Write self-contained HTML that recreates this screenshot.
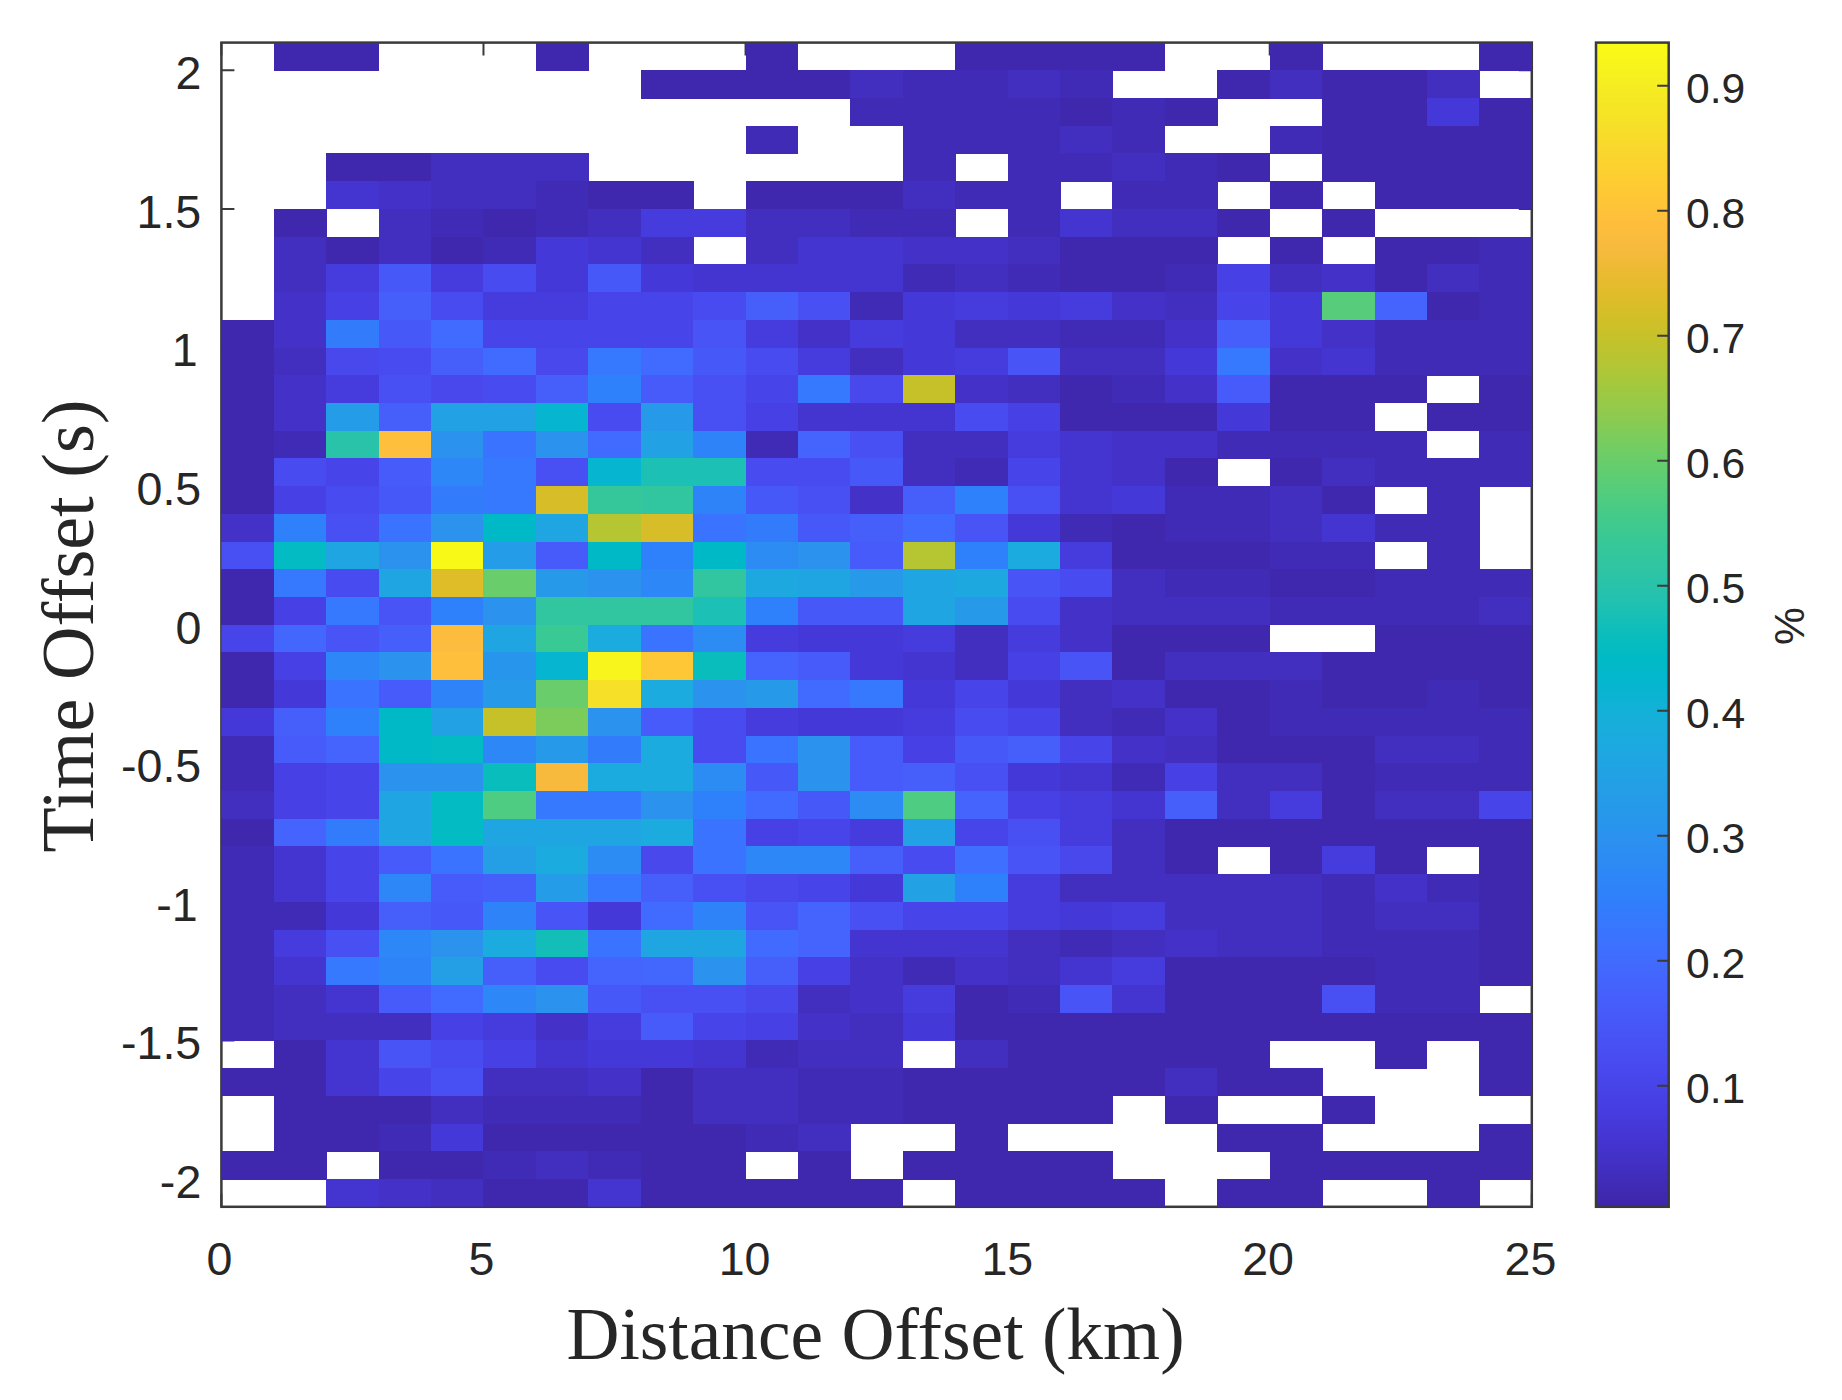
<!DOCTYPE html>
<html lang="en"><head><meta charset="utf-8"><title>Time Offset vs Distance Offset</title>
<style>html,body{margin:0;padding:0;background:#fff}svg{display:block}</style></head>
<body>
<svg width="1842" height="1400" viewBox="0 0 1842 1400">
<rect width="1842" height="1400" fill="#fff"/>
<defs><linearGradient id="pg" x1="0" y1="1" x2="0" y2="0"><stop offset="0.0000" stop-color="#3e26a8"/><stop offset="0.0196" stop-color="#402bb7"/><stop offset="0.0392" stop-color="#4330c5"/><stop offset="0.0588" stop-color="#4535d2"/><stop offset="0.0784" stop-color="#463bde"/><stop offset="0.0980" stop-color="#4742e6"/><stop offset="0.1176" stop-color="#4849ed"/><stop offset="0.1373" stop-color="#4850f3"/><stop offset="0.1569" stop-color="#4757f7"/><stop offset="0.1765" stop-color="#465efb"/><stop offset="0.1961" stop-color="#4465fd"/><stop offset="0.2157" stop-color="#406dfe"/><stop offset="0.2353" stop-color="#3974ff"/><stop offset="0.2549" stop-color="#327cfc"/><stop offset="0.2745" stop-color="#2e83f9"/><stop offset="0.2941" stop-color="#2d8af5"/><stop offset="0.3137" stop-color="#2c90f0"/><stop offset="0.3333" stop-color="#2797eb"/><stop offset="0.3529" stop-color="#259ce7"/><stop offset="0.3725" stop-color="#22a2e4"/><stop offset="0.3922" stop-color="#1da8e1"/><stop offset="0.4118" stop-color="#19addc"/><stop offset="0.4314" stop-color="#10b2d5"/><stop offset="0.4510" stop-color="#04b6ce"/><stop offset="0.4706" stop-color="#00bac6"/><stop offset="0.4902" stop-color="#09bdbd"/><stop offset="0.5098" stop-color="#1ac0b5"/><stop offset="0.5294" stop-color="#27c2ac"/><stop offset="0.5490" stop-color="#2fc5a3"/><stop offset="0.5686" stop-color="#36c899"/><stop offset="0.5882" stop-color="#40ca8d"/><stop offset="0.6078" stop-color="#4ecc81"/><stop offset="0.6275" stop-color="#5ecd74"/><stop offset="0.6471" stop-color="#6ecd66"/><stop offset="0.6667" stop-color="#81cc59"/><stop offset="0.6863" stop-color="#93ca4b"/><stop offset="0.7059" stop-color="#a4c83e"/><stop offset="0.7255" stop-color="#b5c533"/><stop offset="0.7451" stop-color="#c5c22a"/><stop offset="0.7647" stop-color="#d3bf27"/><stop offset="0.7843" stop-color="#e1bc2a"/><stop offset="0.8039" stop-color="#ecba32"/><stop offset="0.8235" stop-color="#f7ba3d"/><stop offset="0.8431" stop-color="#febe3c"/><stop offset="0.8627" stop-color="#fec537"/><stop offset="0.8824" stop-color="#fdcd31"/><stop offset="0.9020" stop-color="#fad52e"/><stop offset="0.9216" stop-color="#f7dd2a"/><stop offset="0.9412" stop-color="#f5e526"/><stop offset="0.9608" stop-color="#f5ec22"/><stop offset="0.9804" stop-color="#f7f41c"/><stop offset="1.0000" stop-color="#f9fb15"/><stop offset="1" stop-color="#f9fb15"/></linearGradient></defs>
<rect x="1596.0" y="42.6" width="72.70000000000005" height="1164.2" fill="url(#pg)"/>
<g fill="none" stroke="#3a3a3a" stroke-width="2.5">
<rect x="221.4" y="42.6" width="1310.3999999999999" height="1164.2"/>
<rect x="1596.0" y="42.6" width="72.70000000000005" height="1164.2"/>
<path d="M221.40 1206.8 v-13 M221.40 42.6 v13 M483.48 1206.8 v-13 M483.48 42.6 v13 M745.56 1206.8 v-13 M745.56 42.6 v13 M1007.64 1206.8 v-13 M1007.64 42.6 v13 M1269.72 1206.8 v-13 M1269.72 42.6 v13 M1531.80 1206.8 v-13 M1531.80 42.6 v13 M221.4 70.32 h13 M1531.8 70.32 h-13 M221.4 208.91 h13 M1531.8 208.91 h-13 M221.4 347.51 h13 M1531.8 347.51 h-13 M221.4 486.10 h13 M1531.8 486.10 h-13 M221.4 624.70 h13 M1531.8 624.70 h-13 M221.4 763.30 h13 M1531.8 763.30 h-13 M221.4 901.89 h13 M1531.8 901.89 h-13 M221.4 1040.49 h13 M1531.8 1040.49 h-13 M221.4 1179.08 h13 M1531.8 1179.08 h-13 M1668.7 1085.69 h-11.5 M1668.7 960.71 h-11.5 M1668.7 835.73 h-11.5 M1668.7 710.75 h-11.5 M1668.7 585.77 h-11.5 M1668.7 460.79 h-11.5 M1668.7 335.81 h-11.5 M1668.7 210.82 h-11.5 M1668.7 85.84 h-11.5" stroke-width="2"/>
</g>
<clipPath id="pc"><rect x="221.4" y="42.6" width="1310.3999999999999" height="1164.2"/></clipPath>
<g shape-rendering="crispEdges" clip-path="url(#pc)">
<rect x="273.82" y="42.60" width="105.33" height="28.22" fill="#3f28ae"/>
<rect x="535.90" y="42.60" width="52.92" height="28.22" fill="#3f28ae"/>
<rect x="745.56" y="42.60" width="52.92" height="28.22" fill="#3f28ae"/>
<rect x="955.22" y="42.60" width="210.16" height="28.22" fill="#3f28ae"/>
<rect x="1269.72" y="42.60" width="52.92" height="28.22" fill="#3f28ae"/>
<rect x="1479.38" y="42.60" width="52.92" height="28.22" fill="#3f28ae"/>
<rect x="640.73" y="70.32" width="210.16" height="28.22" fill="#3f28ae"/>
<rect x="850.39" y="70.32" width="52.92" height="28.22" fill="#422ebf"/>
<rect x="902.81" y="70.32" width="105.33" height="28.22" fill="#402bb6"/>
<rect x="1007.64" y="70.32" width="52.92" height="28.22" fill="#422ebf"/>
<rect x="1060.06" y="70.32" width="52.92" height="28.22" fill="#402bb6"/>
<rect x="1217.30" y="70.32" width="52.92" height="28.22" fill="#3f28ae"/>
<rect x="1269.72" y="70.32" width="52.92" height="28.22" fill="#422ebf"/>
<rect x="1322.14" y="70.32" width="105.33" height="28.22" fill="#3f28ae"/>
<rect x="1426.97" y="70.32" width="52.92" height="28.22" fill="#422ebf"/>
<rect x="850.39" y="98.04" width="210.16" height="28.22" fill="#402bb6"/>
<rect x="1060.06" y="98.04" width="52.92" height="28.22" fill="#3f28ae"/>
<rect x="1112.47" y="98.04" width="52.92" height="28.22" fill="#402bb6"/>
<rect x="1164.89" y="98.04" width="52.92" height="28.22" fill="#3f28ae"/>
<rect x="1322.14" y="98.04" width="105.33" height="28.22" fill="#3f28ae"/>
<rect x="1426.97" y="98.04" width="52.92" height="28.22" fill="#4538d8"/>
<rect x="1479.38" y="98.04" width="52.92" height="28.22" fill="#3f28ae"/>
<rect x="745.56" y="125.76" width="52.92" height="28.22" fill="#402bb6"/>
<rect x="902.81" y="125.76" width="157.75" height="28.22" fill="#402bb6"/>
<rect x="1060.06" y="125.76" width="52.92" height="28.22" fill="#422ebf"/>
<rect x="1112.47" y="125.76" width="52.92" height="28.22" fill="#402bb6"/>
<rect x="1269.72" y="125.76" width="52.92" height="28.22" fill="#402bb6"/>
<rect x="1322.14" y="125.76" width="210.16" height="28.22" fill="#3f28ae"/>
<rect x="326.23" y="153.48" width="105.33" height="28.22" fill="#3f28ae"/>
<rect x="431.06" y="153.48" width="157.75" height="28.22" fill="#422ebf"/>
<rect x="902.81" y="153.48" width="52.92" height="28.22" fill="#402bb6"/>
<rect x="1007.64" y="153.48" width="105.33" height="28.22" fill="#402bb6"/>
<rect x="1112.47" y="153.48" width="52.92" height="28.22" fill="#422ebf"/>
<rect x="1164.89" y="153.48" width="52.92" height="28.22" fill="#402bb6"/>
<rect x="1217.30" y="153.48" width="52.92" height="28.22" fill="#3f28ae"/>
<rect x="1322.14" y="153.48" width="210.16" height="28.22" fill="#3f28ae"/>
<rect x="326.23" y="181.20" width="52.92" height="28.22" fill="#4435d0"/>
<rect x="378.65" y="181.20" width="52.92" height="28.22" fill="#4331c8"/>
<rect x="431.06" y="181.20" width="105.33" height="28.22" fill="#422ebf"/>
<rect x="535.90" y="181.20" width="52.92" height="28.22" fill="#402bb6"/>
<rect x="588.31" y="181.20" width="105.33" height="28.22" fill="#3f28ae"/>
<rect x="745.56" y="181.20" width="157.75" height="28.22" fill="#3f28ae"/>
<rect x="902.81" y="181.20" width="52.92" height="28.22" fill="#422ebf"/>
<rect x="955.22" y="181.20" width="105.33" height="28.22" fill="#402bb6"/>
<rect x="1112.47" y="181.20" width="105.33" height="28.22" fill="#402bb6"/>
<rect x="1269.72" y="181.20" width="52.92" height="28.22" fill="#3f28ae"/>
<rect x="1374.55" y="181.20" width="157.75" height="28.22" fill="#3f28ae"/>
<rect x="273.82" y="208.91" width="52.92" height="28.22" fill="#3f28ae"/>
<rect x="378.65" y="208.91" width="52.92" height="28.22" fill="#422ebf"/>
<rect x="431.06" y="208.91" width="52.92" height="28.22" fill="#402bb6"/>
<rect x="483.48" y="208.91" width="52.92" height="28.22" fill="#3f28ae"/>
<rect x="535.90" y="208.91" width="52.92" height="28.22" fill="#402bb6"/>
<rect x="588.31" y="208.91" width="52.92" height="28.22" fill="#422ebf"/>
<rect x="640.73" y="208.91" width="105.33" height="28.22" fill="#463cde"/>
<rect x="745.56" y="208.91" width="105.33" height="28.22" fill="#422ebf"/>
<rect x="850.39" y="208.91" width="105.33" height="28.22" fill="#402bb6"/>
<rect x="1007.64" y="208.91" width="52.92" height="28.22" fill="#402bb6"/>
<rect x="1060.06" y="208.91" width="52.92" height="28.22" fill="#4435d0"/>
<rect x="1112.47" y="208.91" width="105.33" height="28.22" fill="#422ebf"/>
<rect x="1217.30" y="208.91" width="52.92" height="28.22" fill="#3f28ae"/>
<rect x="1322.14" y="208.91" width="52.92" height="28.22" fill="#3f28ae"/>
<rect x="273.82" y="236.63" width="52.92" height="28.22" fill="#422ebf"/>
<rect x="326.23" y="236.63" width="52.92" height="28.22" fill="#3f28ae"/>
<rect x="378.65" y="236.63" width="52.92" height="28.22" fill="#422ebf"/>
<rect x="431.06" y="236.63" width="52.92" height="28.22" fill="#3f28ae"/>
<rect x="483.48" y="236.63" width="52.92" height="28.22" fill="#402bb6"/>
<rect x="535.90" y="236.63" width="52.92" height="28.22" fill="#4538d8"/>
<rect x="588.31" y="236.63" width="52.92" height="28.22" fill="#4435d0"/>
<rect x="640.73" y="236.63" width="52.92" height="28.22" fill="#422ebf"/>
<rect x="745.56" y="236.63" width="52.92" height="28.22" fill="#422ebf"/>
<rect x="797.98" y="236.63" width="105.33" height="28.22" fill="#4435d0"/>
<rect x="902.81" y="236.63" width="105.33" height="28.22" fill="#4331c8"/>
<rect x="1007.64" y="236.63" width="52.92" height="28.22" fill="#422ebf"/>
<rect x="1060.06" y="236.63" width="157.75" height="28.22" fill="#3f28ae"/>
<rect x="1269.72" y="236.63" width="52.92" height="28.22" fill="#3f28ae"/>
<rect x="1374.55" y="236.63" width="105.33" height="28.22" fill="#3f28ae"/>
<rect x="1479.38" y="236.63" width="52.92" height="28.22" fill="#402bb6"/>
<rect x="273.82" y="264.35" width="52.92" height="28.22" fill="#422ebf"/>
<rect x="326.23" y="264.35" width="52.92" height="28.22" fill="#463cde"/>
<rect x="378.65" y="264.35" width="52.92" height="28.22" fill="#4758f8"/>
<rect x="431.06" y="264.35" width="52.92" height="28.22" fill="#463cde"/>
<rect x="483.48" y="264.35" width="52.92" height="28.22" fill="#484cf0"/>
<rect x="535.90" y="264.35" width="52.92" height="28.22" fill="#4538d8"/>
<rect x="588.31" y="264.35" width="52.92" height="28.22" fill="#4758f8"/>
<rect x="640.73" y="264.35" width="52.92" height="28.22" fill="#4538d8"/>
<rect x="693.14" y="264.35" width="210.16" height="28.22" fill="#4435d0"/>
<rect x="902.81" y="264.35" width="52.92" height="28.22" fill="#402bb6"/>
<rect x="955.22" y="264.35" width="52.92" height="28.22" fill="#422ebf"/>
<rect x="1007.64" y="264.35" width="52.92" height="28.22" fill="#402bb6"/>
<rect x="1060.06" y="264.35" width="105.33" height="28.22" fill="#3f28ae"/>
<rect x="1164.89" y="264.35" width="52.92" height="28.22" fill="#402bb6"/>
<rect x="1217.30" y="264.35" width="52.92" height="28.22" fill="#4740e4"/>
<rect x="1269.72" y="264.35" width="52.92" height="28.22" fill="#422ebf"/>
<rect x="1322.14" y="264.35" width="52.92" height="28.22" fill="#4331c8"/>
<rect x="1374.55" y="264.35" width="52.92" height="28.22" fill="#3f28ae"/>
<rect x="1426.97" y="264.35" width="52.92" height="28.22" fill="#422ebf"/>
<rect x="1479.38" y="264.35" width="52.92" height="28.22" fill="#402bb6"/>
<rect x="273.82" y="292.07" width="52.92" height="28.22" fill="#4331c8"/>
<rect x="326.23" y="292.07" width="52.92" height="28.22" fill="#4740e4"/>
<rect x="378.65" y="292.07" width="52.92" height="28.22" fill="#465ffb"/>
<rect x="431.06" y="292.07" width="52.92" height="28.22" fill="#484cf0"/>
<rect x="483.48" y="292.07" width="105.33" height="28.22" fill="#463cde"/>
<rect x="588.31" y="292.07" width="105.33" height="28.22" fill="#4744e9"/>
<rect x="693.14" y="292.07" width="52.92" height="28.22" fill="#484cf0"/>
<rect x="745.56" y="292.07" width="52.92" height="28.22" fill="#465ffb"/>
<rect x="797.98" y="292.07" width="52.92" height="28.22" fill="#4850f3"/>
<rect x="850.39" y="292.07" width="52.92" height="28.22" fill="#402bb6"/>
<rect x="902.81" y="292.07" width="52.92" height="28.22" fill="#4538d8"/>
<rect x="955.22" y="292.07" width="52.92" height="28.22" fill="#463cde"/>
<rect x="1007.64" y="292.07" width="52.92" height="28.22" fill="#4538d8"/>
<rect x="1060.06" y="292.07" width="52.92" height="28.22" fill="#463cde"/>
<rect x="1112.47" y="292.07" width="52.92" height="28.22" fill="#4331c8"/>
<rect x="1164.89" y="292.07" width="52.92" height="28.22" fill="#422ebf"/>
<rect x="1217.30" y="292.07" width="52.92" height="28.22" fill="#4744e9"/>
<rect x="1269.72" y="292.07" width="52.92" height="28.22" fill="#4538d8"/>
<rect x="1322.14" y="292.07" width="52.92" height="28.22" fill="#57cc7a"/>
<rect x="1374.55" y="292.07" width="52.92" height="28.22" fill="#4563fd"/>
<rect x="1426.97" y="292.07" width="52.92" height="28.22" fill="#3f28ae"/>
<rect x="1479.38" y="292.07" width="52.92" height="28.22" fill="#402bb6"/>
<rect x="221.40" y="319.79" width="52.92" height="28.22" fill="#3f28ae"/>
<rect x="273.82" y="319.79" width="52.92" height="28.22" fill="#4331c8"/>
<rect x="326.23" y="319.79" width="52.92" height="28.22" fill="#327cfc"/>
<rect x="378.65" y="319.79" width="52.92" height="28.22" fill="#4758f8"/>
<rect x="431.06" y="319.79" width="52.92" height="28.22" fill="#416bfe"/>
<rect x="483.48" y="319.79" width="210.16" height="28.22" fill="#4744e9"/>
<rect x="693.14" y="319.79" width="52.92" height="28.22" fill="#4854f5"/>
<rect x="745.56" y="319.79" width="52.92" height="28.22" fill="#463cde"/>
<rect x="797.98" y="319.79" width="52.92" height="28.22" fill="#4331c8"/>
<rect x="850.39" y="319.79" width="52.92" height="28.22" fill="#463cde"/>
<rect x="902.81" y="319.79" width="52.92" height="28.22" fill="#4538d8"/>
<rect x="955.22" y="319.79" width="105.33" height="28.22" fill="#422ebf"/>
<rect x="1060.06" y="319.79" width="105.33" height="28.22" fill="#402bb6"/>
<rect x="1164.89" y="319.79" width="52.92" height="28.22" fill="#4331c8"/>
<rect x="1217.30" y="319.79" width="52.92" height="28.22" fill="#465ffb"/>
<rect x="1269.72" y="319.79" width="52.92" height="28.22" fill="#4538d8"/>
<rect x="1322.14" y="319.79" width="52.92" height="28.22" fill="#4331c8"/>
<rect x="1374.55" y="319.79" width="157.75" height="28.22" fill="#402bb6"/>
<rect x="221.40" y="347.51" width="52.92" height="28.22" fill="#3f28ae"/>
<rect x="273.82" y="347.51" width="52.92" height="28.22" fill="#422ebf"/>
<rect x="326.23" y="347.51" width="52.92" height="28.22" fill="#4848ec"/>
<rect x="378.65" y="347.51" width="52.92" height="28.22" fill="#484cf0"/>
<rect x="431.06" y="347.51" width="52.92" height="28.22" fill="#465ffb"/>
<rect x="483.48" y="347.51" width="52.92" height="28.22" fill="#416bfe"/>
<rect x="535.90" y="347.51" width="52.92" height="28.22" fill="#4848ec"/>
<rect x="588.31" y="347.51" width="52.92" height="28.22" fill="#3678fe"/>
<rect x="640.73" y="347.51" width="52.92" height="28.22" fill="#416bfe"/>
<rect x="693.14" y="347.51" width="52.92" height="28.22" fill="#4758f8"/>
<rect x="745.56" y="347.51" width="52.92" height="28.22" fill="#484cf0"/>
<rect x="797.98" y="347.51" width="52.92" height="28.22" fill="#463cde"/>
<rect x="850.39" y="347.51" width="52.92" height="28.22" fill="#422ebf"/>
<rect x="902.81" y="347.51" width="52.92" height="28.22" fill="#4538d8"/>
<rect x="955.22" y="347.51" width="52.92" height="28.22" fill="#463cde"/>
<rect x="1007.64" y="347.51" width="52.92" height="28.22" fill="#4854f5"/>
<rect x="1060.06" y="347.51" width="105.33" height="28.22" fill="#422ebf"/>
<rect x="1164.89" y="347.51" width="52.92" height="28.22" fill="#4538d8"/>
<rect x="1217.30" y="347.51" width="52.92" height="28.22" fill="#3678fe"/>
<rect x="1269.72" y="347.51" width="52.92" height="28.22" fill="#4331c8"/>
<rect x="1322.14" y="347.51" width="52.92" height="28.22" fill="#4435d0"/>
<rect x="1374.55" y="347.51" width="157.75" height="28.22" fill="#402bb6"/>
<rect x="221.40" y="375.23" width="52.92" height="28.22" fill="#3f28ae"/>
<rect x="273.82" y="375.23" width="52.92" height="28.22" fill="#4331c8"/>
<rect x="326.23" y="375.23" width="52.92" height="28.22" fill="#463cde"/>
<rect x="378.65" y="375.23" width="52.92" height="28.22" fill="#4850f3"/>
<rect x="431.06" y="375.23" width="52.92" height="28.22" fill="#4848ec"/>
<rect x="483.48" y="375.23" width="52.92" height="28.22" fill="#484cf0"/>
<rect x="535.90" y="375.23" width="52.92" height="28.22" fill="#465ffb"/>
<rect x="588.31" y="375.23" width="52.92" height="28.22" fill="#2f80fb"/>
<rect x="640.73" y="375.23" width="52.92" height="28.22" fill="#475bfa"/>
<rect x="693.14" y="375.23" width="52.92" height="28.22" fill="#4850f3"/>
<rect x="745.56" y="375.23" width="52.92" height="28.22" fill="#4744e9"/>
<rect x="797.98" y="375.23" width="52.92" height="28.22" fill="#3678fe"/>
<rect x="850.39" y="375.23" width="52.92" height="28.22" fill="#4848ec"/>
<rect x="902.81" y="375.23" width="52.92" height="28.22" fill="#c7c129"/>
<rect x="955.22" y="375.23" width="52.92" height="28.22" fill="#4331c8"/>
<rect x="1007.64" y="375.23" width="52.92" height="28.22" fill="#422ebf"/>
<rect x="1060.06" y="375.23" width="52.92" height="28.22" fill="#3f28ae"/>
<rect x="1112.47" y="375.23" width="52.92" height="28.22" fill="#402bb6"/>
<rect x="1164.89" y="375.23" width="52.92" height="28.22" fill="#4331c8"/>
<rect x="1217.30" y="375.23" width="52.92" height="28.22" fill="#475bfa"/>
<rect x="1269.72" y="375.23" width="157.75" height="28.22" fill="#3f28ae"/>
<rect x="1479.38" y="375.23" width="52.92" height="28.22" fill="#3f28ae"/>
<rect x="221.40" y="402.95" width="52.92" height="28.22" fill="#3f28ae"/>
<rect x="273.82" y="402.95" width="52.92" height="28.22" fill="#4331c8"/>
<rect x="326.23" y="402.95" width="52.92" height="28.22" fill="#259ce7"/>
<rect x="378.65" y="402.95" width="52.92" height="28.22" fill="#465ffb"/>
<rect x="431.06" y="402.95" width="105.33" height="28.22" fill="#22a2e4"/>
<rect x="535.90" y="402.95" width="52.92" height="28.22" fill="#06b5cf"/>
<rect x="588.31" y="402.95" width="52.92" height="28.22" fill="#484cf0"/>
<rect x="640.73" y="402.95" width="52.92" height="28.22" fill="#2699e9"/>
<rect x="693.14" y="402.95" width="52.92" height="28.22" fill="#4850f3"/>
<rect x="745.56" y="402.95" width="52.92" height="28.22" fill="#4740e4"/>
<rect x="797.98" y="402.95" width="157.75" height="28.22" fill="#4435d0"/>
<rect x="955.22" y="402.95" width="52.92" height="28.22" fill="#484cf0"/>
<rect x="1007.64" y="402.95" width="52.92" height="28.22" fill="#4740e4"/>
<rect x="1060.06" y="402.95" width="157.75" height="28.22" fill="#3f28ae"/>
<rect x="1217.30" y="402.95" width="52.92" height="28.22" fill="#4538d8"/>
<rect x="1269.72" y="402.95" width="105.33" height="28.22" fill="#3f28ae"/>
<rect x="1426.97" y="402.95" width="105.33" height="28.22" fill="#3f28ae"/>
<rect x="221.40" y="430.67" width="52.92" height="28.22" fill="#3f28ae"/>
<rect x="273.82" y="430.67" width="52.92" height="28.22" fill="#402bb6"/>
<rect x="326.23" y="430.67" width="52.92" height="28.22" fill="#29c3aa"/>
<rect x="378.65" y="430.67" width="52.92" height="28.22" fill="#febf3c"/>
<rect x="431.06" y="430.67" width="52.92" height="28.22" fill="#2b92ee"/>
<rect x="483.48" y="430.67" width="52.92" height="28.22" fill="#3a73ff"/>
<rect x="535.90" y="430.67" width="52.92" height="28.22" fill="#2b92ee"/>
<rect x="588.31" y="430.67" width="52.92" height="28.22" fill="#416bfe"/>
<rect x="640.73" y="430.67" width="52.92" height="28.22" fill="#22a2e4"/>
<rect x="693.14" y="430.67" width="52.92" height="28.22" fill="#2e83f9"/>
<rect x="745.56" y="430.67" width="52.92" height="28.22" fill="#402bb6"/>
<rect x="797.98" y="430.67" width="52.92" height="28.22" fill="#4563fd"/>
<rect x="850.39" y="430.67" width="52.92" height="28.22" fill="#4850f3"/>
<rect x="902.81" y="430.67" width="105.33" height="28.22" fill="#422ebf"/>
<rect x="1007.64" y="430.67" width="52.92" height="28.22" fill="#463cde"/>
<rect x="1060.06" y="430.67" width="52.92" height="28.22" fill="#4435d0"/>
<rect x="1112.47" y="430.67" width="105.33" height="28.22" fill="#4331c8"/>
<rect x="1217.30" y="430.67" width="210.16" height="28.22" fill="#402bb6"/>
<rect x="1479.38" y="430.67" width="52.92" height="28.22" fill="#402bb6"/>
<rect x="221.40" y="458.39" width="52.92" height="28.22" fill="#3f28ae"/>
<rect x="273.82" y="458.39" width="52.92" height="28.22" fill="#484cf0"/>
<rect x="326.23" y="458.39" width="52.92" height="28.22" fill="#4744e9"/>
<rect x="378.65" y="458.39" width="52.92" height="28.22" fill="#475bfa"/>
<rect x="431.06" y="458.39" width="52.92" height="28.22" fill="#2e87f7"/>
<rect x="483.48" y="458.39" width="52.92" height="28.22" fill="#3678fe"/>
<rect x="535.90" y="458.39" width="52.92" height="28.22" fill="#4850f3"/>
<rect x="588.31" y="458.39" width="52.92" height="28.22" fill="#06b5cf"/>
<rect x="640.73" y="458.39" width="105.33" height="28.22" fill="#1cc0b4"/>
<rect x="745.56" y="458.39" width="105.33" height="28.22" fill="#484cf0"/>
<rect x="850.39" y="458.39" width="52.92" height="28.22" fill="#4758f8"/>
<rect x="902.81" y="458.39" width="52.92" height="28.22" fill="#422ebf"/>
<rect x="955.22" y="458.39" width="52.92" height="28.22" fill="#402bb6"/>
<rect x="1007.64" y="458.39" width="52.92" height="28.22" fill="#4744e9"/>
<rect x="1060.06" y="458.39" width="52.92" height="28.22" fill="#4435d0"/>
<rect x="1112.47" y="458.39" width="52.92" height="28.22" fill="#4331c8"/>
<rect x="1164.89" y="458.39" width="52.92" height="28.22" fill="#3f28ae"/>
<rect x="1269.72" y="458.39" width="52.92" height="28.22" fill="#3f28ae"/>
<rect x="1322.14" y="458.39" width="52.92" height="28.22" fill="#422ebf"/>
<rect x="1374.55" y="458.39" width="157.75" height="28.22" fill="#402bb6"/>
<rect x="221.40" y="486.10" width="52.92" height="28.22" fill="#3f28ae"/>
<rect x="273.82" y="486.10" width="52.92" height="28.22" fill="#4740e4"/>
<rect x="326.23" y="486.10" width="52.92" height="28.22" fill="#484cf0"/>
<rect x="378.65" y="486.10" width="52.92" height="28.22" fill="#4758f8"/>
<rect x="431.06" y="486.10" width="52.92" height="28.22" fill="#327cfc"/>
<rect x="483.48" y="486.10" width="52.92" height="28.22" fill="#3678fe"/>
<rect x="535.90" y="486.10" width="52.92" height="28.22" fill="#d7be28"/>
<rect x="588.31" y="486.10" width="52.92" height="28.22" fill="#35c79a"/>
<rect x="640.73" y="486.10" width="52.92" height="28.22" fill="#31c6a0"/>
<rect x="693.14" y="486.10" width="52.92" height="28.22" fill="#2e83f9"/>
<rect x="745.56" y="486.10" width="52.92" height="28.22" fill="#4758f8"/>
<rect x="797.98" y="486.10" width="52.92" height="28.22" fill="#4850f3"/>
<rect x="850.39" y="486.10" width="52.92" height="28.22" fill="#4331c8"/>
<rect x="902.81" y="486.10" width="52.92" height="28.22" fill="#465ffb"/>
<rect x="955.22" y="486.10" width="52.92" height="28.22" fill="#2f80fb"/>
<rect x="1007.64" y="486.10" width="52.92" height="28.22" fill="#4850f3"/>
<rect x="1060.06" y="486.10" width="52.92" height="28.22" fill="#4435d0"/>
<rect x="1112.47" y="486.10" width="52.92" height="28.22" fill="#4538d8"/>
<rect x="1164.89" y="486.10" width="105.33" height="28.22" fill="#402bb6"/>
<rect x="1269.72" y="486.10" width="52.92" height="28.22" fill="#422ebf"/>
<rect x="1322.14" y="486.10" width="52.92" height="28.22" fill="#3f28ae"/>
<rect x="1426.97" y="486.10" width="52.92" height="28.22" fill="#402bb6"/>
<rect x="221.40" y="513.82" width="52.92" height="28.22" fill="#4331c8"/>
<rect x="273.82" y="513.82" width="52.92" height="28.22" fill="#2f80fb"/>
<rect x="326.23" y="513.82" width="52.92" height="28.22" fill="#4850f3"/>
<rect x="378.65" y="513.82" width="52.92" height="28.22" fill="#3a73ff"/>
<rect x="431.06" y="513.82" width="52.92" height="28.22" fill="#2b92ee"/>
<rect x="483.48" y="513.82" width="52.92" height="28.22" fill="#00b9c6"/>
<rect x="535.90" y="513.82" width="52.92" height="28.22" fill="#1fa5e2"/>
<rect x="588.31" y="513.82" width="52.92" height="28.22" fill="#b6c532"/>
<rect x="640.73" y="513.82" width="52.92" height="28.22" fill="#d7be28"/>
<rect x="693.14" y="513.82" width="52.92" height="28.22" fill="#3a73ff"/>
<rect x="745.56" y="513.82" width="52.92" height="28.22" fill="#327cfc"/>
<rect x="797.98" y="513.82" width="52.92" height="28.22" fill="#4758f8"/>
<rect x="850.39" y="513.82" width="52.92" height="28.22" fill="#465ffb"/>
<rect x="902.81" y="513.82" width="52.92" height="28.22" fill="#416bfe"/>
<rect x="955.22" y="513.82" width="52.92" height="28.22" fill="#4854f5"/>
<rect x="1007.64" y="513.82" width="52.92" height="28.22" fill="#4538d8"/>
<rect x="1060.06" y="513.82" width="52.92" height="28.22" fill="#402bb6"/>
<rect x="1112.47" y="513.82" width="52.92" height="28.22" fill="#3f28ae"/>
<rect x="1164.89" y="513.82" width="105.33" height="28.22" fill="#402bb6"/>
<rect x="1269.72" y="513.82" width="52.92" height="28.22" fill="#422ebf"/>
<rect x="1322.14" y="513.82" width="52.92" height="28.22" fill="#4435d0"/>
<rect x="1374.55" y="513.82" width="105.33" height="28.22" fill="#402bb6"/>
<rect x="221.40" y="541.54" width="52.92" height="28.22" fill="#4850f3"/>
<rect x="273.82" y="541.54" width="52.92" height="28.22" fill="#03bbc2"/>
<rect x="326.23" y="541.54" width="52.92" height="28.22" fill="#1fa5e2"/>
<rect x="378.65" y="541.54" width="52.92" height="28.22" fill="#2b92ee"/>
<rect x="431.06" y="541.54" width="52.92" height="28.22" fill="#f8f917"/>
<rect x="483.48" y="541.54" width="52.92" height="28.22" fill="#259ce7"/>
<rect x="535.90" y="541.54" width="52.92" height="28.22" fill="#475bfa"/>
<rect x="588.31" y="541.54" width="52.92" height="28.22" fill="#00b9c6"/>
<rect x="640.73" y="541.54" width="52.92" height="28.22" fill="#2f80fb"/>
<rect x="693.14" y="541.54" width="52.92" height="28.22" fill="#00b9c6"/>
<rect x="745.56" y="541.54" width="52.92" height="28.22" fill="#2d8bf4"/>
<rect x="797.98" y="541.54" width="52.92" height="28.22" fill="#2b92ee"/>
<rect x="850.39" y="541.54" width="52.92" height="28.22" fill="#475bfa"/>
<rect x="902.81" y="541.54" width="52.92" height="28.22" fill="#b6c532"/>
<rect x="955.22" y="541.54" width="52.92" height="28.22" fill="#2f80fb"/>
<rect x="1007.64" y="541.54" width="52.92" height="28.22" fill="#1babde"/>
<rect x="1060.06" y="541.54" width="52.92" height="28.22" fill="#463cde"/>
<rect x="1112.47" y="541.54" width="157.75" height="28.22" fill="#3f28ae"/>
<rect x="1269.72" y="541.54" width="105.33" height="28.22" fill="#402bb6"/>
<rect x="1426.97" y="541.54" width="52.92" height="28.22" fill="#402bb6"/>
<rect x="221.40" y="569.26" width="52.92" height="28.22" fill="#3f28ae"/>
<rect x="273.82" y="569.26" width="52.92" height="28.22" fill="#3678fe"/>
<rect x="326.23" y="569.26" width="52.92" height="28.22" fill="#484cf0"/>
<rect x="378.65" y="569.26" width="52.92" height="28.22" fill="#1fa5e2"/>
<rect x="431.06" y="569.26" width="52.92" height="28.22" fill="#debd29"/>
<rect x="483.48" y="569.26" width="52.92" height="28.22" fill="#69cd6b"/>
<rect x="535.90" y="569.26" width="52.92" height="28.22" fill="#2699e9"/>
<rect x="588.31" y="569.26" width="52.92" height="28.22" fill="#2b92ee"/>
<rect x="640.73" y="569.26" width="52.92" height="28.22" fill="#2e87f7"/>
<rect x="693.14" y="569.26" width="52.92" height="28.22" fill="#31c6a0"/>
<rect x="745.56" y="569.26" width="52.92" height="28.22" fill="#1da8e0"/>
<rect x="797.98" y="569.26" width="52.92" height="28.22" fill="#1fa5e2"/>
<rect x="850.39" y="569.26" width="52.92" height="28.22" fill="#2699e9"/>
<rect x="902.81" y="569.26" width="52.92" height="28.22" fill="#1fa5e2"/>
<rect x="955.22" y="569.26" width="52.92" height="28.22" fill="#1da8e0"/>
<rect x="1007.64" y="569.26" width="52.92" height="28.22" fill="#4854f5"/>
<rect x="1060.06" y="569.26" width="52.92" height="28.22" fill="#484cf0"/>
<rect x="1112.47" y="569.26" width="52.92" height="28.22" fill="#422ebf"/>
<rect x="1164.89" y="569.26" width="105.33" height="28.22" fill="#402bb6"/>
<rect x="1269.72" y="569.26" width="105.33" height="28.22" fill="#3f28ae"/>
<rect x="1374.55" y="569.26" width="157.75" height="28.22" fill="#402bb6"/>
<rect x="221.40" y="596.98" width="52.92" height="28.22" fill="#3f28ae"/>
<rect x="273.82" y="596.98" width="52.92" height="28.22" fill="#4740e4"/>
<rect x="326.23" y="596.98" width="52.92" height="28.22" fill="#3678fe"/>
<rect x="378.65" y="596.98" width="52.92" height="28.22" fill="#4854f5"/>
<rect x="431.06" y="596.98" width="52.92" height="28.22" fill="#2f80fb"/>
<rect x="483.48" y="596.98" width="52.92" height="28.22" fill="#2b92ee"/>
<rect x="535.90" y="596.98" width="157.75" height="28.22" fill="#31c6a0"/>
<rect x="693.14" y="596.98" width="52.92" height="28.22" fill="#1cc0b4"/>
<rect x="745.56" y="596.98" width="52.92" height="28.22" fill="#2f80fb"/>
<rect x="797.98" y="596.98" width="105.33" height="28.22" fill="#4758f8"/>
<rect x="902.81" y="596.98" width="52.92" height="28.22" fill="#1fa5e2"/>
<rect x="955.22" y="596.98" width="52.92" height="28.22" fill="#2699e9"/>
<rect x="1007.64" y="596.98" width="52.92" height="28.22" fill="#484cf0"/>
<rect x="1060.06" y="596.98" width="52.92" height="28.22" fill="#4331c8"/>
<rect x="1112.47" y="596.98" width="157.75" height="28.22" fill="#422ebf"/>
<rect x="1269.72" y="596.98" width="210.16" height="28.22" fill="#402bb6"/>
<rect x="1479.38" y="596.98" width="52.92" height="28.22" fill="#422ebf"/>
<rect x="221.40" y="624.70" width="52.92" height="28.22" fill="#4744e9"/>
<rect x="273.82" y="624.70" width="52.92" height="28.22" fill="#4367fd"/>
<rect x="326.23" y="624.70" width="52.92" height="28.22" fill="#4854f5"/>
<rect x="378.65" y="624.70" width="52.92" height="28.22" fill="#465ffb"/>
<rect x="431.06" y="624.70" width="52.92" height="28.22" fill="#fcbc3e"/>
<rect x="483.48" y="624.70" width="52.92" height="28.22" fill="#1fa5e2"/>
<rect x="535.90" y="624.70" width="52.92" height="28.22" fill="#39c994"/>
<rect x="588.31" y="624.70" width="52.92" height="28.22" fill="#1babde"/>
<rect x="640.73" y="624.70" width="52.92" height="28.22" fill="#3a73ff"/>
<rect x="693.14" y="624.70" width="52.92" height="28.22" fill="#2d8bf4"/>
<rect x="745.56" y="624.70" width="52.92" height="28.22" fill="#463cde"/>
<rect x="797.98" y="624.70" width="105.33" height="28.22" fill="#4538d8"/>
<rect x="902.81" y="624.70" width="52.92" height="28.22" fill="#463cde"/>
<rect x="955.22" y="624.70" width="52.92" height="28.22" fill="#422ebf"/>
<rect x="1007.64" y="624.70" width="52.92" height="28.22" fill="#463cde"/>
<rect x="1060.06" y="624.70" width="52.92" height="28.22" fill="#4331c8"/>
<rect x="1112.47" y="624.70" width="157.75" height="28.22" fill="#3f28ae"/>
<rect x="1374.55" y="624.70" width="157.75" height="28.22" fill="#3f28ae"/>
<rect x="221.40" y="652.42" width="52.92" height="28.22" fill="#3f28ae"/>
<rect x="273.82" y="652.42" width="52.92" height="28.22" fill="#4740e4"/>
<rect x="326.23" y="652.42" width="52.92" height="28.22" fill="#2e87f7"/>
<rect x="378.65" y="652.42" width="52.92" height="28.22" fill="#2b92ee"/>
<rect x="431.06" y="652.42" width="52.92" height="28.22" fill="#febf3c"/>
<rect x="483.48" y="652.42" width="52.92" height="28.22" fill="#2895ec"/>
<rect x="535.90" y="652.42" width="52.92" height="28.22" fill="#06b5cf"/>
<rect x="588.31" y="652.42" width="52.92" height="28.22" fill="#f7f51b"/>
<rect x="640.73" y="652.42" width="52.92" height="28.22" fill="#fec736"/>
<rect x="693.14" y="652.42" width="52.92" height="28.22" fill="#0abdbd"/>
<rect x="745.56" y="652.42" width="52.92" height="28.22" fill="#4563fd"/>
<rect x="797.98" y="652.42" width="52.92" height="28.22" fill="#475bfa"/>
<rect x="850.39" y="652.42" width="52.92" height="28.22" fill="#4538d8"/>
<rect x="902.81" y="652.42" width="52.92" height="28.22" fill="#4435d0"/>
<rect x="955.22" y="652.42" width="52.92" height="28.22" fill="#422ebf"/>
<rect x="1007.64" y="652.42" width="52.92" height="28.22" fill="#4740e4"/>
<rect x="1060.06" y="652.42" width="52.92" height="28.22" fill="#4854f5"/>
<rect x="1112.47" y="652.42" width="52.92" height="28.22" fill="#3f28ae"/>
<rect x="1164.89" y="652.42" width="157.75" height="28.22" fill="#422ebf"/>
<rect x="1322.14" y="652.42" width="210.16" height="28.22" fill="#3f28ae"/>
<rect x="221.40" y="680.14" width="52.92" height="28.22" fill="#3f28ae"/>
<rect x="273.82" y="680.14" width="52.92" height="28.22" fill="#4538d8"/>
<rect x="326.23" y="680.14" width="52.92" height="28.22" fill="#3a73ff"/>
<rect x="378.65" y="680.14" width="52.92" height="28.22" fill="#475bfa"/>
<rect x="431.06" y="680.14" width="52.92" height="28.22" fill="#2e83f9"/>
<rect x="483.48" y="680.14" width="52.92" height="28.22" fill="#2699e9"/>
<rect x="535.90" y="680.14" width="52.92" height="28.22" fill="#69cd6b"/>
<rect x="588.31" y="680.14" width="52.92" height="28.22" fill="#f6e028"/>
<rect x="640.73" y="680.14" width="52.92" height="28.22" fill="#1babde"/>
<rect x="693.14" y="680.14" width="52.92" height="28.22" fill="#2b92ee"/>
<rect x="745.56" y="680.14" width="52.92" height="28.22" fill="#2699e9"/>
<rect x="797.98" y="680.14" width="52.92" height="28.22" fill="#416bfe"/>
<rect x="850.39" y="680.14" width="52.92" height="28.22" fill="#3678fe"/>
<rect x="902.81" y="680.14" width="52.92" height="28.22" fill="#4538d8"/>
<rect x="955.22" y="680.14" width="52.92" height="28.22" fill="#4744e9"/>
<rect x="1007.64" y="680.14" width="52.92" height="28.22" fill="#4538d8"/>
<rect x="1060.06" y="680.14" width="52.92" height="28.22" fill="#422ebf"/>
<rect x="1112.47" y="680.14" width="52.92" height="28.22" fill="#4331c8"/>
<rect x="1164.89" y="680.14" width="105.33" height="28.22" fill="#3f28ae"/>
<rect x="1269.72" y="680.14" width="52.92" height="28.22" fill="#402bb6"/>
<rect x="1322.14" y="680.14" width="105.33" height="28.22" fill="#3f28ae"/>
<rect x="1426.97" y="680.14" width="52.92" height="28.22" fill="#402bb6"/>
<rect x="1479.38" y="680.14" width="52.92" height="28.22" fill="#3f28ae"/>
<rect x="221.40" y="707.86" width="52.92" height="28.22" fill="#4538d8"/>
<rect x="273.82" y="707.86" width="52.92" height="28.22" fill="#465ffb"/>
<rect x="326.23" y="707.86" width="52.92" height="28.22" fill="#2f80fb"/>
<rect x="378.65" y="707.86" width="52.92" height="28.22" fill="#00b9c6"/>
<rect x="431.06" y="707.86" width="52.92" height="28.22" fill="#22a2e4"/>
<rect x="483.48" y="707.86" width="52.92" height="28.22" fill="#c7c129"/>
<rect x="535.90" y="707.86" width="52.92" height="28.22" fill="#7ccc5c"/>
<rect x="588.31" y="707.86" width="52.92" height="28.22" fill="#2b92ee"/>
<rect x="640.73" y="707.86" width="52.92" height="28.22" fill="#475bfa"/>
<rect x="693.14" y="707.86" width="52.92" height="28.22" fill="#484cf0"/>
<rect x="745.56" y="707.86" width="52.92" height="28.22" fill="#463cde"/>
<rect x="797.98" y="707.86" width="105.33" height="28.22" fill="#4538d8"/>
<rect x="902.81" y="707.86" width="52.92" height="28.22" fill="#463cde"/>
<rect x="955.22" y="707.86" width="52.92" height="28.22" fill="#484cf0"/>
<rect x="1007.64" y="707.86" width="52.92" height="28.22" fill="#4744e9"/>
<rect x="1060.06" y="707.86" width="52.92" height="28.22" fill="#422ebf"/>
<rect x="1112.47" y="707.86" width="52.92" height="28.22" fill="#402bb6"/>
<rect x="1164.89" y="707.86" width="52.92" height="28.22" fill="#4331c8"/>
<rect x="1217.30" y="707.86" width="52.92" height="28.22" fill="#3f28ae"/>
<rect x="1269.72" y="707.86" width="262.58" height="28.22" fill="#402bb6"/>
<rect x="221.40" y="735.58" width="52.92" height="28.22" fill="#402bb6"/>
<rect x="273.82" y="735.58" width="52.92" height="28.22" fill="#475bfa"/>
<rect x="326.23" y="735.58" width="52.92" height="28.22" fill="#4563fd"/>
<rect x="378.65" y="735.58" width="52.92" height="28.22" fill="#00b9c6"/>
<rect x="431.06" y="735.58" width="52.92" height="28.22" fill="#03bbc2"/>
<rect x="483.48" y="735.58" width="52.92" height="28.22" fill="#2e87f7"/>
<rect x="535.90" y="735.58" width="52.92" height="28.22" fill="#2699e9"/>
<rect x="588.31" y="735.58" width="52.92" height="28.22" fill="#327cfc"/>
<rect x="640.73" y="735.58" width="52.92" height="28.22" fill="#1babde"/>
<rect x="693.14" y="735.58" width="52.92" height="28.22" fill="#484cf0"/>
<rect x="745.56" y="735.58" width="52.92" height="28.22" fill="#3a73ff"/>
<rect x="797.98" y="735.58" width="52.92" height="28.22" fill="#2b92ee"/>
<rect x="850.39" y="735.58" width="52.92" height="28.22" fill="#475bfa"/>
<rect x="902.81" y="735.58" width="52.92" height="28.22" fill="#4740e4"/>
<rect x="955.22" y="735.58" width="52.92" height="28.22" fill="#4758f8"/>
<rect x="1007.64" y="735.58" width="52.92" height="28.22" fill="#465ffb"/>
<rect x="1060.06" y="735.58" width="52.92" height="28.22" fill="#4744e9"/>
<rect x="1112.47" y="735.58" width="52.92" height="28.22" fill="#4331c8"/>
<rect x="1164.89" y="735.58" width="52.92" height="28.22" fill="#422ebf"/>
<rect x="1217.30" y="735.58" width="157.75" height="28.22" fill="#3f28ae"/>
<rect x="1374.55" y="735.58" width="105.33" height="28.22" fill="#422ebf"/>
<rect x="1479.38" y="735.58" width="52.92" height="28.22" fill="#402bb6"/>
<rect x="221.40" y="763.30" width="52.92" height="28.22" fill="#402bb6"/>
<rect x="273.82" y="763.30" width="52.92" height="28.22" fill="#4740e4"/>
<rect x="326.23" y="763.30" width="52.92" height="28.22" fill="#4744e9"/>
<rect x="378.65" y="763.30" width="105.33" height="28.22" fill="#2b92ee"/>
<rect x="483.48" y="763.30" width="52.92" height="28.22" fill="#0abdbd"/>
<rect x="535.90" y="763.30" width="52.92" height="28.22" fill="#f7ba3c"/>
<rect x="588.31" y="763.30" width="105.33" height="28.22" fill="#1babde"/>
<rect x="693.14" y="763.30" width="52.92" height="28.22" fill="#2d8bf4"/>
<rect x="745.56" y="763.30" width="52.92" height="28.22" fill="#4758f8"/>
<rect x="797.98" y="763.30" width="52.92" height="28.22" fill="#2b92ee"/>
<rect x="850.39" y="763.30" width="52.92" height="28.22" fill="#475bfa"/>
<rect x="902.81" y="763.30" width="52.92" height="28.22" fill="#465ffb"/>
<rect x="955.22" y="763.30" width="52.92" height="28.22" fill="#4850f3"/>
<rect x="1007.64" y="763.30" width="52.92" height="28.22" fill="#4538d8"/>
<rect x="1060.06" y="763.30" width="52.92" height="28.22" fill="#4435d0"/>
<rect x="1112.47" y="763.30" width="52.92" height="28.22" fill="#402bb6"/>
<rect x="1164.89" y="763.30" width="52.92" height="28.22" fill="#4740e4"/>
<rect x="1217.30" y="763.30" width="105.33" height="28.22" fill="#422ebf"/>
<rect x="1322.14" y="763.30" width="52.92" height="28.22" fill="#3f28ae"/>
<rect x="1374.55" y="763.30" width="157.75" height="28.22" fill="#402bb6"/>
<rect x="221.40" y="791.01" width="52.92" height="28.22" fill="#422ebf"/>
<rect x="273.82" y="791.01" width="52.92" height="28.22" fill="#4740e4"/>
<rect x="326.23" y="791.01" width="52.92" height="28.22" fill="#4744e9"/>
<rect x="378.65" y="791.01" width="52.92" height="28.22" fill="#1fa5e2"/>
<rect x="431.06" y="791.01" width="52.92" height="28.22" fill="#03bbc2"/>
<rect x="483.48" y="791.01" width="52.92" height="28.22" fill="#4ecc81"/>
<rect x="535.90" y="791.01" width="105.33" height="28.22" fill="#3678fe"/>
<rect x="640.73" y="791.01" width="52.92" height="28.22" fill="#2b92ee"/>
<rect x="693.14" y="791.01" width="52.92" height="28.22" fill="#2f80fb"/>
<rect x="745.56" y="791.01" width="52.92" height="28.22" fill="#416bfe"/>
<rect x="797.98" y="791.01" width="52.92" height="28.22" fill="#4758f8"/>
<rect x="850.39" y="791.01" width="52.92" height="28.22" fill="#2d8bf4"/>
<rect x="902.81" y="791.01" width="52.92" height="28.22" fill="#4ecc81"/>
<rect x="955.22" y="791.01" width="52.92" height="28.22" fill="#4563fd"/>
<rect x="1007.64" y="791.01" width="52.92" height="28.22" fill="#4740e4"/>
<rect x="1060.06" y="791.01" width="52.92" height="28.22" fill="#463cde"/>
<rect x="1112.47" y="791.01" width="52.92" height="28.22" fill="#4435d0"/>
<rect x="1164.89" y="791.01" width="52.92" height="28.22" fill="#465ffb"/>
<rect x="1217.30" y="791.01" width="52.92" height="28.22" fill="#422ebf"/>
<rect x="1269.72" y="791.01" width="52.92" height="28.22" fill="#463cde"/>
<rect x="1322.14" y="791.01" width="52.92" height="28.22" fill="#3f28ae"/>
<rect x="1374.55" y="791.01" width="105.33" height="28.22" fill="#422ebf"/>
<rect x="1479.38" y="791.01" width="52.92" height="28.22" fill="#4744e9"/>
<rect x="221.40" y="818.73" width="52.92" height="28.22" fill="#3f28ae"/>
<rect x="273.82" y="818.73" width="52.92" height="28.22" fill="#4563fd"/>
<rect x="326.23" y="818.73" width="52.92" height="28.22" fill="#327cfc"/>
<rect x="378.65" y="818.73" width="52.92" height="28.22" fill="#1fa5e2"/>
<rect x="431.06" y="818.73" width="52.92" height="28.22" fill="#03bbc2"/>
<rect x="483.48" y="818.73" width="157.75" height="28.22" fill="#1fa5e2"/>
<rect x="640.73" y="818.73" width="52.92" height="28.22" fill="#1babde"/>
<rect x="693.14" y="818.73" width="52.92" height="28.22" fill="#3a73ff"/>
<rect x="745.56" y="818.73" width="52.92" height="28.22" fill="#4740e4"/>
<rect x="797.98" y="818.73" width="52.92" height="28.22" fill="#4744e9"/>
<rect x="850.39" y="818.73" width="52.92" height="28.22" fill="#463cde"/>
<rect x="902.81" y="818.73" width="52.92" height="28.22" fill="#22a2e4"/>
<rect x="955.22" y="818.73" width="52.92" height="28.22" fill="#4744e9"/>
<rect x="1007.64" y="818.73" width="52.92" height="28.22" fill="#4850f3"/>
<rect x="1060.06" y="818.73" width="52.92" height="28.22" fill="#463cde"/>
<rect x="1112.47" y="818.73" width="52.92" height="28.22" fill="#422ebf"/>
<rect x="1164.89" y="818.73" width="367.41" height="28.22" fill="#3f28ae"/>
<rect x="221.40" y="846.45" width="52.92" height="28.22" fill="#402bb6"/>
<rect x="273.82" y="846.45" width="52.92" height="28.22" fill="#4435d0"/>
<rect x="326.23" y="846.45" width="52.92" height="28.22" fill="#4744e9"/>
<rect x="378.65" y="846.45" width="52.92" height="28.22" fill="#475bfa"/>
<rect x="431.06" y="846.45" width="52.92" height="28.22" fill="#3a73ff"/>
<rect x="483.48" y="846.45" width="52.92" height="28.22" fill="#249fe5"/>
<rect x="535.90" y="846.45" width="52.92" height="28.22" fill="#1babde"/>
<rect x="588.31" y="846.45" width="52.92" height="28.22" fill="#2d8bf4"/>
<rect x="640.73" y="846.45" width="52.92" height="28.22" fill="#4848ec"/>
<rect x="693.14" y="846.45" width="52.92" height="28.22" fill="#3a73ff"/>
<rect x="745.56" y="846.45" width="105.33" height="28.22" fill="#2e87f7"/>
<rect x="850.39" y="846.45" width="52.92" height="28.22" fill="#465ffb"/>
<rect x="902.81" y="846.45" width="52.92" height="28.22" fill="#484cf0"/>
<rect x="955.22" y="846.45" width="52.92" height="28.22" fill="#3e6fff"/>
<rect x="1007.64" y="846.45" width="52.92" height="28.22" fill="#4854f5"/>
<rect x="1060.06" y="846.45" width="52.92" height="28.22" fill="#4848ec"/>
<rect x="1112.47" y="846.45" width="52.92" height="28.22" fill="#422ebf"/>
<rect x="1164.89" y="846.45" width="52.92" height="28.22" fill="#3f28ae"/>
<rect x="1269.72" y="846.45" width="52.92" height="28.22" fill="#3f28ae"/>
<rect x="1322.14" y="846.45" width="52.92" height="28.22" fill="#463cde"/>
<rect x="1374.55" y="846.45" width="52.92" height="28.22" fill="#3f28ae"/>
<rect x="1479.38" y="846.45" width="52.92" height="28.22" fill="#3f28ae"/>
<rect x="221.40" y="874.17" width="52.92" height="28.22" fill="#402bb6"/>
<rect x="273.82" y="874.17" width="52.92" height="28.22" fill="#4435d0"/>
<rect x="326.23" y="874.17" width="52.92" height="28.22" fill="#4744e9"/>
<rect x="378.65" y="874.17" width="52.92" height="28.22" fill="#2e87f7"/>
<rect x="431.06" y="874.17" width="52.92" height="28.22" fill="#475bfa"/>
<rect x="483.48" y="874.17" width="52.92" height="28.22" fill="#465ffb"/>
<rect x="535.90" y="874.17" width="52.92" height="28.22" fill="#259ce7"/>
<rect x="588.31" y="874.17" width="52.92" height="28.22" fill="#3678fe"/>
<rect x="640.73" y="874.17" width="52.92" height="28.22" fill="#465ffb"/>
<rect x="693.14" y="874.17" width="52.92" height="28.22" fill="#4850f3"/>
<rect x="745.56" y="874.17" width="52.92" height="28.22" fill="#4848ec"/>
<rect x="797.98" y="874.17" width="52.92" height="28.22" fill="#4744e9"/>
<rect x="850.39" y="874.17" width="52.92" height="28.22" fill="#4538d8"/>
<rect x="902.81" y="874.17" width="52.92" height="28.22" fill="#22a2e4"/>
<rect x="955.22" y="874.17" width="52.92" height="28.22" fill="#2f80fb"/>
<rect x="1007.64" y="874.17" width="52.92" height="28.22" fill="#463cde"/>
<rect x="1060.06" y="874.17" width="262.58" height="28.22" fill="#422ebf"/>
<rect x="1322.14" y="874.17" width="52.92" height="28.22" fill="#402bb6"/>
<rect x="1374.55" y="874.17" width="52.92" height="28.22" fill="#4331c8"/>
<rect x="1426.97" y="874.17" width="52.92" height="28.22" fill="#402bb6"/>
<rect x="1479.38" y="874.17" width="52.92" height="28.22" fill="#3f28ae"/>
<rect x="221.40" y="901.89" width="105.33" height="28.22" fill="#402bb6"/>
<rect x="326.23" y="901.89" width="52.92" height="28.22" fill="#4538d8"/>
<rect x="378.65" y="901.89" width="52.92" height="28.22" fill="#465ffb"/>
<rect x="431.06" y="901.89" width="52.92" height="28.22" fill="#4758f8"/>
<rect x="483.48" y="901.89" width="52.92" height="28.22" fill="#2e83f9"/>
<rect x="535.90" y="901.89" width="52.92" height="28.22" fill="#4854f5"/>
<rect x="588.31" y="901.89" width="52.92" height="28.22" fill="#4538d8"/>
<rect x="640.73" y="901.89" width="52.92" height="28.22" fill="#416bfe"/>
<rect x="693.14" y="901.89" width="52.92" height="28.22" fill="#2e83f9"/>
<rect x="745.56" y="901.89" width="52.92" height="28.22" fill="#4854f5"/>
<rect x="797.98" y="901.89" width="52.92" height="28.22" fill="#4563fd"/>
<rect x="850.39" y="901.89" width="52.92" height="28.22" fill="#4850f3"/>
<rect x="902.81" y="901.89" width="105.33" height="28.22" fill="#4744e9"/>
<rect x="1007.64" y="901.89" width="52.92" height="28.22" fill="#463cde"/>
<rect x="1060.06" y="901.89" width="52.92" height="28.22" fill="#4538d8"/>
<rect x="1112.47" y="901.89" width="52.92" height="28.22" fill="#463cde"/>
<rect x="1164.89" y="901.89" width="157.75" height="28.22" fill="#422ebf"/>
<rect x="1322.14" y="901.89" width="52.92" height="28.22" fill="#402bb6"/>
<rect x="1374.55" y="901.89" width="105.33" height="28.22" fill="#422ebf"/>
<rect x="1479.38" y="901.89" width="52.92" height="28.22" fill="#3f28ae"/>
<rect x="221.40" y="929.61" width="52.92" height="28.22" fill="#402bb6"/>
<rect x="273.82" y="929.61" width="52.92" height="28.22" fill="#463cde"/>
<rect x="326.23" y="929.61" width="52.92" height="28.22" fill="#4850f3"/>
<rect x="378.65" y="929.61" width="52.92" height="28.22" fill="#2e87f7"/>
<rect x="431.06" y="929.61" width="52.92" height="28.22" fill="#2b92ee"/>
<rect x="483.48" y="929.61" width="52.92" height="28.22" fill="#1babde"/>
<rect x="535.90" y="929.61" width="52.92" height="28.22" fill="#13beb9"/>
<rect x="588.31" y="929.61" width="52.92" height="28.22" fill="#3a73ff"/>
<rect x="640.73" y="929.61" width="105.33" height="28.22" fill="#1fa5e2"/>
<rect x="745.56" y="929.61" width="52.92" height="28.22" fill="#416bfe"/>
<rect x="797.98" y="929.61" width="52.92" height="28.22" fill="#4563fd"/>
<rect x="850.39" y="929.61" width="157.75" height="28.22" fill="#4435d0"/>
<rect x="1007.64" y="929.61" width="52.92" height="28.22" fill="#422ebf"/>
<rect x="1060.06" y="929.61" width="52.92" height="28.22" fill="#402bb6"/>
<rect x="1112.47" y="929.61" width="52.92" height="28.22" fill="#422ebf"/>
<rect x="1164.89" y="929.61" width="52.92" height="28.22" fill="#4331c8"/>
<rect x="1217.30" y="929.61" width="105.33" height="28.22" fill="#422ebf"/>
<rect x="1322.14" y="929.61" width="157.75" height="28.22" fill="#402bb6"/>
<rect x="1479.38" y="929.61" width="52.92" height="28.22" fill="#3f28ae"/>
<rect x="221.40" y="957.33" width="52.92" height="28.22" fill="#402bb6"/>
<rect x="273.82" y="957.33" width="52.92" height="28.22" fill="#4435d0"/>
<rect x="326.23" y="957.33" width="52.92" height="28.22" fill="#3678fe"/>
<rect x="378.65" y="957.33" width="52.92" height="28.22" fill="#2e83f9"/>
<rect x="431.06" y="957.33" width="52.92" height="28.22" fill="#249fe5"/>
<rect x="483.48" y="957.33" width="52.92" height="28.22" fill="#465ffb"/>
<rect x="535.90" y="957.33" width="52.92" height="28.22" fill="#484cf0"/>
<rect x="588.31" y="957.33" width="52.92" height="28.22" fill="#4563fd"/>
<rect x="640.73" y="957.33" width="52.92" height="28.22" fill="#4367fd"/>
<rect x="693.14" y="957.33" width="52.92" height="28.22" fill="#2b92ee"/>
<rect x="745.56" y="957.33" width="52.92" height="28.22" fill="#465ffb"/>
<rect x="797.98" y="957.33" width="52.92" height="28.22" fill="#4740e4"/>
<rect x="850.39" y="957.33" width="52.92" height="28.22" fill="#4331c8"/>
<rect x="902.81" y="957.33" width="52.92" height="28.22" fill="#402bb6"/>
<rect x="955.22" y="957.33" width="52.92" height="28.22" fill="#4331c8"/>
<rect x="1007.64" y="957.33" width="52.92" height="28.22" fill="#422ebf"/>
<rect x="1060.06" y="957.33" width="52.92" height="28.22" fill="#4435d0"/>
<rect x="1112.47" y="957.33" width="52.92" height="28.22" fill="#463cde"/>
<rect x="1164.89" y="957.33" width="210.16" height="28.22" fill="#3f28ae"/>
<rect x="1374.55" y="957.33" width="105.33" height="28.22" fill="#402bb6"/>
<rect x="1479.38" y="957.33" width="52.92" height="28.22" fill="#3f28ae"/>
<rect x="221.40" y="985.05" width="52.92" height="28.22" fill="#402bb6"/>
<rect x="273.82" y="985.05" width="52.92" height="28.22" fill="#422ebf"/>
<rect x="326.23" y="985.05" width="52.92" height="28.22" fill="#4435d0"/>
<rect x="378.65" y="985.05" width="52.92" height="28.22" fill="#475bfa"/>
<rect x="431.06" y="985.05" width="52.92" height="28.22" fill="#416bfe"/>
<rect x="483.48" y="985.05" width="52.92" height="28.22" fill="#2e87f7"/>
<rect x="535.90" y="985.05" width="52.92" height="28.22" fill="#2b92ee"/>
<rect x="588.31" y="985.05" width="52.92" height="28.22" fill="#4758f8"/>
<rect x="640.73" y="985.05" width="105.33" height="28.22" fill="#4850f3"/>
<rect x="745.56" y="985.05" width="52.92" height="28.22" fill="#4848ec"/>
<rect x="797.98" y="985.05" width="52.92" height="28.22" fill="#422ebf"/>
<rect x="850.39" y="985.05" width="52.92" height="28.22" fill="#4331c8"/>
<rect x="902.81" y="985.05" width="52.92" height="28.22" fill="#463cde"/>
<rect x="955.22" y="985.05" width="52.92" height="28.22" fill="#3f28ae"/>
<rect x="1007.64" y="985.05" width="52.92" height="28.22" fill="#402bb6"/>
<rect x="1060.06" y="985.05" width="52.92" height="28.22" fill="#4854f5"/>
<rect x="1112.47" y="985.05" width="52.92" height="28.22" fill="#4435d0"/>
<rect x="1164.89" y="985.05" width="157.75" height="28.22" fill="#3f28ae"/>
<rect x="1322.14" y="985.05" width="52.92" height="28.22" fill="#4850f3"/>
<rect x="1374.55" y="985.05" width="105.33" height="28.22" fill="#402bb6"/>
<rect x="221.40" y="1012.77" width="52.92" height="28.22" fill="#402bb6"/>
<rect x="273.82" y="1012.77" width="157.75" height="28.22" fill="#422ebf"/>
<rect x="431.06" y="1012.77" width="52.92" height="28.22" fill="#4740e4"/>
<rect x="483.48" y="1012.77" width="52.92" height="28.22" fill="#463cde"/>
<rect x="535.90" y="1012.77" width="52.92" height="28.22" fill="#4331c8"/>
<rect x="588.31" y="1012.77" width="52.92" height="28.22" fill="#463cde"/>
<rect x="640.73" y="1012.77" width="52.92" height="28.22" fill="#475bfa"/>
<rect x="693.14" y="1012.77" width="52.92" height="28.22" fill="#4744e9"/>
<rect x="745.56" y="1012.77" width="52.92" height="28.22" fill="#4740e4"/>
<rect x="797.98" y="1012.77" width="52.92" height="28.22" fill="#4331c8"/>
<rect x="850.39" y="1012.77" width="52.92" height="28.22" fill="#422ebf"/>
<rect x="902.81" y="1012.77" width="52.92" height="28.22" fill="#4538d8"/>
<rect x="955.22" y="1012.77" width="577.08" height="28.22" fill="#3f28ae"/>
<rect x="273.82" y="1040.49" width="52.92" height="28.22" fill="#3f28ae"/>
<rect x="326.23" y="1040.49" width="52.92" height="28.22" fill="#4435d0"/>
<rect x="378.65" y="1040.49" width="52.92" height="28.22" fill="#4854f5"/>
<rect x="431.06" y="1040.49" width="52.92" height="28.22" fill="#484cf0"/>
<rect x="483.48" y="1040.49" width="52.92" height="28.22" fill="#4740e4"/>
<rect x="535.90" y="1040.49" width="52.92" height="28.22" fill="#4435d0"/>
<rect x="588.31" y="1040.49" width="105.33" height="28.22" fill="#4538d8"/>
<rect x="693.14" y="1040.49" width="52.92" height="28.22" fill="#4435d0"/>
<rect x="745.56" y="1040.49" width="52.92" height="28.22" fill="#402bb6"/>
<rect x="797.98" y="1040.49" width="105.33" height="28.22" fill="#422ebf"/>
<rect x="955.22" y="1040.49" width="52.92" height="28.22" fill="#422ebf"/>
<rect x="1007.64" y="1040.49" width="262.58" height="28.22" fill="#3f28ae"/>
<rect x="1374.55" y="1040.49" width="52.92" height="28.22" fill="#3f28ae"/>
<rect x="1479.38" y="1040.49" width="52.92" height="28.22" fill="#3f28ae"/>
<rect x="221.40" y="1068.20" width="105.33" height="28.22" fill="#3f28ae"/>
<rect x="326.23" y="1068.20" width="52.92" height="28.22" fill="#4435d0"/>
<rect x="378.65" y="1068.20" width="52.92" height="28.22" fill="#4744e9"/>
<rect x="431.06" y="1068.20" width="52.92" height="28.22" fill="#4850f3"/>
<rect x="483.48" y="1068.20" width="105.33" height="28.22" fill="#422ebf"/>
<rect x="588.31" y="1068.20" width="52.92" height="28.22" fill="#4331c8"/>
<rect x="640.73" y="1068.20" width="52.92" height="28.22" fill="#3f28ae"/>
<rect x="693.14" y="1068.20" width="105.33" height="28.22" fill="#422ebf"/>
<rect x="797.98" y="1068.20" width="105.33" height="28.22" fill="#402bb6"/>
<rect x="902.81" y="1068.20" width="262.58" height="28.22" fill="#3f28ae"/>
<rect x="1164.89" y="1068.20" width="52.92" height="28.22" fill="#422ebf"/>
<rect x="1217.30" y="1068.20" width="105.33" height="28.22" fill="#3f28ae"/>
<rect x="1479.38" y="1068.20" width="52.92" height="28.22" fill="#3f28ae"/>
<rect x="273.82" y="1095.92" width="157.75" height="28.22" fill="#3f28ae"/>
<rect x="431.06" y="1095.92" width="52.92" height="28.22" fill="#422ebf"/>
<rect x="483.48" y="1095.92" width="157.75" height="28.22" fill="#402bb6"/>
<rect x="640.73" y="1095.92" width="52.92" height="28.22" fill="#3f28ae"/>
<rect x="693.14" y="1095.92" width="105.33" height="28.22" fill="#422ebf"/>
<rect x="797.98" y="1095.92" width="105.33" height="28.22" fill="#402bb6"/>
<rect x="902.81" y="1095.92" width="210.16" height="28.22" fill="#3f28ae"/>
<rect x="1164.89" y="1095.92" width="52.92" height="28.22" fill="#3f28ae"/>
<rect x="1322.14" y="1095.92" width="52.92" height="28.22" fill="#3f28ae"/>
<rect x="273.82" y="1123.64" width="105.33" height="28.22" fill="#3f28ae"/>
<rect x="378.65" y="1123.64" width="52.92" height="28.22" fill="#402bb6"/>
<rect x="431.06" y="1123.64" width="52.92" height="28.22" fill="#4538d8"/>
<rect x="483.48" y="1123.64" width="262.58" height="28.22" fill="#3f28ae"/>
<rect x="745.56" y="1123.64" width="52.92" height="28.22" fill="#402bb6"/>
<rect x="797.98" y="1123.64" width="52.92" height="28.22" fill="#422ebf"/>
<rect x="955.22" y="1123.64" width="52.92" height="28.22" fill="#3f28ae"/>
<rect x="1217.30" y="1123.64" width="105.33" height="28.22" fill="#3f28ae"/>
<rect x="1479.38" y="1123.64" width="52.92" height="28.22" fill="#3f28ae"/>
<rect x="221.40" y="1151.36" width="105.33" height="28.22" fill="#3f28ae"/>
<rect x="378.65" y="1151.36" width="105.33" height="28.22" fill="#3f28ae"/>
<rect x="483.48" y="1151.36" width="52.92" height="28.22" fill="#402bb6"/>
<rect x="535.90" y="1151.36" width="52.92" height="28.22" fill="#422ebf"/>
<rect x="588.31" y="1151.36" width="52.92" height="28.22" fill="#402bb6"/>
<rect x="640.73" y="1151.36" width="105.33" height="28.22" fill="#3f28ae"/>
<rect x="797.98" y="1151.36" width="52.92" height="28.22" fill="#3f28ae"/>
<rect x="902.81" y="1151.36" width="210.16" height="28.22" fill="#3f28ae"/>
<rect x="1269.72" y="1151.36" width="262.58" height="28.22" fill="#3f28ae"/>
<rect x="326.23" y="1179.08" width="52.92" height="28.22" fill="#4435d0"/>
<rect x="378.65" y="1179.08" width="52.92" height="28.22" fill="#4331c8"/>
<rect x="431.06" y="1179.08" width="52.92" height="28.22" fill="#422ebf"/>
<rect x="483.48" y="1179.08" width="105.33" height="28.22" fill="#3f28ae"/>
<rect x="588.31" y="1179.08" width="52.92" height="28.22" fill="#4435d0"/>
<rect x="640.73" y="1179.08" width="262.58" height="28.22" fill="#3f28ae"/>
<rect x="955.22" y="1179.08" width="210.16" height="28.22" fill="#3f28ae"/>
<rect x="1217.30" y="1179.08" width="105.33" height="28.22" fill="#3f28ae"/>
<rect x="1426.97" y="1179.08" width="52.92" height="28.22" fill="#3f28ae"/>
</g>
<g font-family="'Liberation Sans', Arial, Helvetica, sans-serif" font-size="46.6" fill="#262626">
<text x="219.4" y="1274.5" text-anchor="middle">0</text>
<text x="481.5" y="1274.5" text-anchor="middle">5</text>
<text x="744.6" y="1274.5" text-anchor="middle">10</text>
<text x="1007.3" y="1274.5" text-anchor="middle">15</text>
<text x="1268.1" y="1274.5" text-anchor="middle">20</text>
<text x="1530.5" y="1274.5" text-anchor="middle">25</text>
<text x="201.3" y="89.1" text-anchor="end">2</text>
<text x="201.3" y="227.7" text-anchor="end">1.5</text>
<text x="197.7" y="366.3" text-anchor="end">1</text>
<text x="201.3" y="504.9" text-anchor="end">0.5</text>
<text x="201.3" y="643.5" text-anchor="end">0</text>
<text x="201.3" y="782.1" text-anchor="end">-0.5</text>
<text x="197.7" y="920.7" text-anchor="end">-1</text>
<text x="201.3" y="1059.3" text-anchor="end">-1.5</text>
<text x="201.3" y="1197.9" text-anchor="end">-2</text>
</g>
<g font-family="'Liberation Sans', Arial, Helvetica, sans-serif" font-size="42.6" fill="#262626">
<text x="1686" y="1103.2">0.1</text>
<text x="1686" y="978.2">0.2</text>
<text x="1686" y="853.2">0.3</text>
<text x="1686" y="728.2">0.4</text>
<text x="1686" y="603.3">0.5</text>
<text x="1686" y="478.3">0.6</text>
<text x="1686" y="353.3">0.7</text>
<text x="1686" y="228.3">0.8</text>
<text x="1686" y="103.3">0.9</text>
<text transform="translate(1803.5,626) rotate(-90)" text-anchor="middle">%</text>
</g>
<g font-family="'Liberation Serif', 'Times New Roman', Times, serif" font-size="73.4" fill="#262626">
<text x="875.5" y="1358.6" text-anchor="middle">Distance Offset (km)</text>
<text transform="translate(93.2,626) rotate(-90)" text-anchor="middle" font-size="74.1">Time Offset (s)</text>
</g>
</svg>
</body></html>
